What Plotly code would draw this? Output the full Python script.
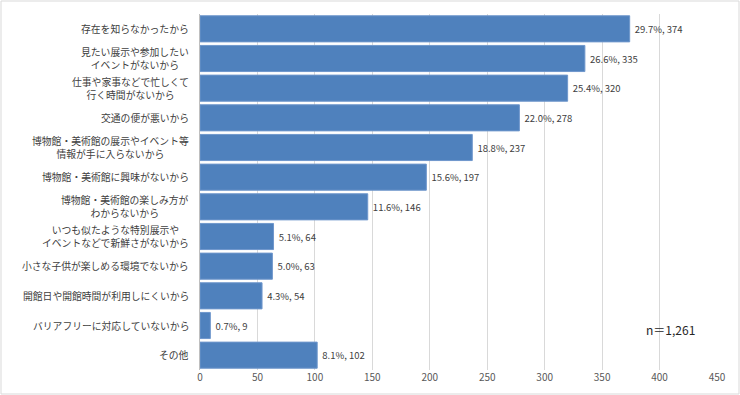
import plotly.graph_objects as go

categories = [
    "存在を知らなかったから",
    "見たい展示や参加したい<br>イベントがないから",
    "仕事や家事などで忙しくて<br>行く時間がないから",
    "交通の便が悪いから",
    "博物館・美術館の展示やイベント等<br>情報が手に入らないから",
    "博物館・美術館に興味がないから",
    "博物館・美術館の楽しみ方が<br>わからないから",
    "いつも似たような特別展示や<br>イベントなどで新鮮さがないから",
    "小さな子供が楽しめる環境でないから",
    "開館日や開館時間が利用しにくいから",
    "バリアフリーに対応していないから",
    "その他",
]
counts = [374, 335, 320, 278, 237, 197, 146, 64, 63, 54, 9, 102]
percents = [29.7, 26.6, 25.4, 22.0, 18.8, 15.6, 11.6, 5.1, 5.0, 4.3, 0.7, 8.1]
x_ticks = [0, 50, 100, 150, 200, 250, 300, 350, 400, 450]
note = "n＝1,261"

W, H = 740, 395
ML, MR, MT, MB = 200, 23, 14, 25
PW, PH = W - ML - MR, H - MT - MB

FONT = "Noto Sans CJK JP"
TXT = "#404040"

labels = ["\u00a0" + f"{p:.1f}%, {c}" for p, c in zip(percents, counts)]

fig = go.Figure(go.Bar(
    x=counts, y=categories, orientation="h",
    marker=dict(color="#4f81bd", line=dict(color="#6f97cc", width=1)),
    text=labels, textposition="outside", cliponaxis=False,
    textfont=dict(family=FONT, size=9.5, color=TXT),
))

annotations = []
for cat in categories:
    annotations.append(dict(
        x=0, xref="paper", y=cat, yref="y", text=cat, showarrow=False,
        xanchor="right", xshift=-9, align="center",
        font=dict(family=FONT, size=9.8, color=TXT),
    ))
annotations.append(dict(
    x=0.91, xref="paper", y=0.085, yref="paper", text=note, showarrow=False,
    xanchor="center", font=dict(family=FONT, size=12, color="#262626"),
))

fig.update_layout(
    width=W, height=H,
    margin=dict(l=ML, r=MR, t=MT, b=MB),
    paper_bgcolor="white", plot_bgcolor="white",
    bargap=0.12, showlegend=False,
    annotations=annotations,
    xaxis=dict(range=[0, 450], tickvals=x_ticks, showgrid=True,
               gridcolor="#d9d9d9", gridwidth=1, zeroline=False,
               tickfont=dict(family=FONT, size=10, color="#595959"),
               ticks="", showline=False),
    yaxis=dict(autorange="reversed", showticklabels=False, ticks="",
               showline=True, linecolor="#bfbfbf", linewidth=1,
               showgrid=False),
    shapes=[dict(type="rect", xref="paper", yref="paper",
                 x0=(1 - ML) / PW, x1=(W - 1 - ML) / PW,
                 y0=-(MB - 1) / PH, y1=1 + (MT - 1) / PH,
                 line=dict(color="#d9d9d9", width=1), fillcolor="rgba(0,0,0,0)")],
)

fig.write_html("out.html", config={"displayModeBar": False},
               post_script="document.body.style.margin='0';")
